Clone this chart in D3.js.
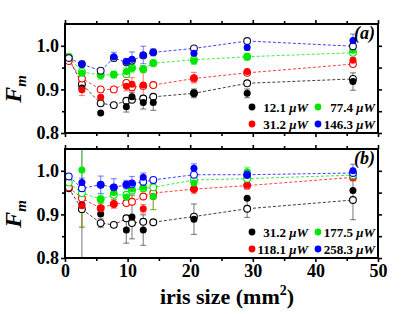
<!DOCTYPE html>
<html>
<head>
<meta charset="utf-8">
<script src="https://cdn.jsdelivr.net/npm/d3@7"></script>
<style>
  body { margin: 0; background: #fff; }
  svg { display: block; }
  text { font-family: "Liberation Serif", "DejaVu Serif", serif; font-weight: bold; }
</style>
</head>
<body>
<svg width="415" height="314"></svg>
<script>
// iris sizes (mm^2), shared by both panels
var irisX = [0.6, 2.7, 5.7, 7.8, 9.8, 10.7, 12.5, 14.1, 20.6, 29.1, 46.0];

// panel (a)
var aLabels = ['12.1', '31.2', '77.4', '146.3'];
var aBlackFill = [null, 0.903, 0.846, null, 0.860, 0.883, 0.870, 0.870, 0.891, 0.891, 0.918];
var aBlackErr  = [0, 0.008, 0, 0, 0.012, 0.010, 0.015, 0.018, 0.010, 0.010, 0.020];
var aBlackOpen = [0.972, 0.912, 0.868, 0.864, 0.874, 0.876, 0.879, 0.883, 0.891, 0.914, 0.924];
var aRedFill   = [null, 0.899, 0.882, null, 0.907, 0.912, 0.910, null, 0.927, 0.941, 0.967];
var aRedErr    = [0, 0.013, 0.005, 0, 0.010, 0.015, 0.030, 0, 0.012, 0.005, 0.005];
var aRedOpen   = [0.965, 0.925, 0.900, 0.900, 0.915, 0.905, 0.908, 0.910, 0.925, 0.938, 0.958];
var aGreenFill = [null, 0.937, 0.933, 0.934, 0.941, 0.948, 0.946, 0.961, 0.965, 0.975, 0.990];
var aGreenErr  = [0, 0.008, 0.010, 0.008, 0.010, 0.010, 0.008, 0.006, 0.008, 0.008, 0.006];
var aGreenOpen = [0.975, 0.940, 0.933, 0.934, 0.935, 0.950, 0.947, 0.960, 0.968, 0.975, 0.984];
var aBlueFill  = [null, 0.958, null, 0.975, 0.964, 0.969, 0.979, 0.985, 0.983, 0.996, 1.012];
var aBlueErr   = [0, 0.007, 0, 0.010, 0.007, 0.017, 0.020, 0.008, 0.006, 0.006, 0.015];
var aBlueOpen  = [0.972, 0.958, 0.943, 0.972, 0.962, 0.966, 0.978, 0.985, 0.994, 1.011, 0.999];

// panel (b)
var bLabels = ['31.2', '118.1', '177.5', '258.3'];
var bBlackFill = [null, 0.922, 0.901, null, 0.864, 0.894, 0.864, null, 0.889, 0.937, 0.955];
var bBlackErr  = [0, 0.130, 0, 0, 0.030, 0.050, 0.035, 0, 0.035, 0, 0];
var bBlackOpen = [0.960, 0.912, 0.880, 0.876, 0.891, 0.880, 0.883, 0.882, 0.895, 0.913, 0.933];
var bBlackOpenErr = [0, 0, 0.010, 0, 0, 0, 0, 0, 0, 0.020, 0.045];
var bRedFill   = [null, 0.920, 0.914, 0.924, null, null, 0.913, 0.941, 0.958, 0.968, 0.987];
var bRedErr    = [0, 0.050, 0.012, 0.010, 0, 0, 0.010, 0.030, 0.010, 0.010, 0.010];
var bRedOpen   = [0.962, 0.937, 0.914, 0.924, 0.926, 0.929, 0.941, 0.949, 0.958, 0.966, 0.985];
var bGreenFill = [null, 1.002, 0.935, 0.950, 0.940, 0.958, 0.962, 0.941, 0.972, 0.998, 0.996];
var bGreenErr  = [0, 0.130, 0.010, 0.015, 0.010, 0.010, 0.010, 0.030, 0.010, 0.010, 0.010];
var bGreenOpen = [0.973, 0.949, 0.935, 0.945, 0.945, 0.955, 0.960, 0.962, 0.979, 0.982, 0.990];
var bBlueFill  = [null, 0.973, 0.968, 0.962, 0.968, 0.972, 0.985, null, 1.006, 0.990, 1.000];
var bBlueErr   = [0, 0.010, 0.020, 0.020, 0.010, 0.015, 0.010, 0, 0.010, 0.010, 0.015];
var bBlueOpen  = [0.987, 0.960, 0.968, 0.962, 0.968, 0.970, 0.975, 0.979, 0.991, 0.991, 0.995];

var xTicks = [0, 10, 20, 30, 40, 50];
var yTicks = [0.8, 0.9, 1.0];

var svg = d3.select('svg');
var x = d3.scaleLinear().domain([0, 50]).range([65, 378]);

function series(color, fill, err, open, openErr, openStroke) {
    return { color: color, fill: fill, err: err, open: open, openErr: openErr, openStroke: openStroke || color };
}

var panels = [
    {
        top: 24, bottom: 133, tag: '(a)', labels: aLabels, showX: false,
        series: [
            series('#000000', aBlackFill, aBlackErr, aBlackOpen),
            series('#ff0000', aRedFill, aRedErr, aRedOpen),
            series('#00e600', aGreenFill, aGreenErr, aGreenOpen),
            series('#0000ff', aBlueFill, aBlueErr, aBlueOpen, null, '#10104a')
        ]
    },
    {
        top: 149, bottom: 258, tag: '(b)', labels: bLabels, showX: true,
        series: [
            series('#000000', bBlackFill, bBlackErr, bBlackOpen, bBlackOpenErr),
            series('#ff0000', bRedFill, bRedErr, bRedOpen),
            series('#00e600', bGreenFill, bGreenErr, bGreenOpen),
            series('#0000ff', bBlueFill, bBlueErr, bBlueOpen)
        ]
    }
];

function drawErrors(g, y, vals, errs, color) {
    irisX.forEach(function(xv, i) {
        if (vals[i] == null || !errs || !errs[i]) return;
        var lo = y(vals[i] - errs[i]), hi = y(vals[i] + errs[i]);
        g.append('line').attr('x1', x(xv)).attr('x2', x(xv)).attr('y1', lo).attr('y2', hi)
            .attr('stroke', color).attr('stroke-opacity', 0.45).attr('stroke-width', 1.2);
        [lo, hi].forEach(function(yy) {
            g.append('line').attr('x1', x(xv) - 3).attr('x2', x(xv) + 3).attr('y1', yy).attr('y2', yy)
                .attr('stroke', color).attr('stroke-opacity', 0.45).attr('stroke-width', 1.2);
        });
    });
}

panels.forEach(function(p, pi) {
    var y = d3.scaleLinear().domain([0.8, 1.05]).range([p.bottom, p.top]);
    var clipId = 'clip' + pi;
    svg.append('clipPath').attr('id', clipId).append('rect')
        .attr('x', 65).attr('y', p.top).attr('width', 313).attr('height', p.bottom - p.top);
    var g = svg.append('g').attr('clip-path', 'url(#' + clipId + ')');

    // error bars
    p.series.forEach(function(s) {
        drawErrors(g, y, s.fill, s.err, s.color);
        drawErrors(g, y, s.open, s.openErr, s.color);
    });

    // dashed lines through open points
    var line = d3.line().x(function(d) { return x(d[0]); }).y(function(d) { return y(d[1]); });
    p.series.forEach(function(s) {
        g.append('path').datum(irisX.map(function(xv, i) { return [xv, s.open[i]]; }))
            .attr('d', line).attr('fill', 'none').attr('stroke', s.color)
            .attr('stroke-opacity', 0.75).attr('stroke-width', 1).attr('stroke-dasharray', '3,2');
    });

    // markers
    p.series.forEach(function(s) {
        g.selectAll(null).data(irisX.map(function(xv, i) { return [xv, s.open[i]]; }))
            .enter().append('circle')
            .attr('cx', function(d) { return x(d[0]); }).attr('cy', function(d) { return y(d[1]); })
            .attr('r', 3.4).attr('fill', '#fff').attr('stroke', s.openStroke).attr('stroke-width', 1.1);
        g.selectAll(null).data(irisX.map(function(xv, i) { return [xv, s.fill[i]]; }).filter(function(d) { return d[1] != null; }))
            .enter().append('circle')
            .attr('cx', function(d) { return x(d[0]); }).attr('cy', function(d) { return y(d[1]); })
            .attr('r', 3.5).attr('fill', s.color);
    });

    // axes
    var axes = svg.append('g');
    function styleAxis(sel) {
        sel.select('.domain').remove();
        sel.selectAll('line').attr('stroke', '#000').attr('stroke-width', 1.6);
        sel.selectAll('text').attr('font-size', 18).attr('fill', '#000')
            .attr('font-family', '"Liberation Serif", serif').attr('font-weight', 'bold');
    }
    axes.append('g').attr('transform', 'translate(65,0)')
        .call(d3.axisLeft(y).tickValues(yTicks).tickFormat(d3.format('.1f')).tickSize(4).tickPadding(2)).call(styleAxis);
    axes.append('g').attr('transform', 'translate(65,0)')
        .call(d3.axisLeft(y).tickValues([0.85, 0.95]).tickFormat('').tickSize(3)).call(styleAxis);
    axes.append('g').attr('transform', 'translate(378,0)')
        .call(d3.axisRight(y).tickValues([0.8, 0.85, 0.9, 0.95, 1.0]).tickFormat('').tickSize(4)).call(styleAxis);
    axes.append('g').attr('transform', 'translate(0,' + p.top + ')')
        .call(d3.axisTop(x).tickValues(xTicks).tickFormat('').tickSize(4)).call(styleAxis);
    axes.append('g').attr('transform', 'translate(0,' + p.top + ')')
        .call(d3.axisTop(x).tickValues([5, 15, 25, 35, 45]).tickFormat('').tickSize(3)).call(styleAxis);
    axes.append('g').attr('transform', 'translate(0,' + p.bottom + ')')
        .call(d3.axisBottom(x).tickValues(xTicks).tickFormat(p.showX ? d3.format('d') : '').tickSize(4).tickPadding(2)).call(styleAxis);
    axes.append('g').attr('transform', 'translate(0,' + p.bottom + ')')
        .call(d3.axisBottom(x).tickValues([5, 15, 25, 35, 45]).tickFormat('').tickSize(3)).call(styleAxis);

    // frame
    svg.append('rect').attr('x', 65).attr('y', p.top).attr('width', 313).attr('height', p.bottom - p.top)
        .attr('fill', 'none').attr('stroke', '#000').attr('stroke-width', 2);

    // panel tag
    svg.append('text').attr('x', 375).attr('y', p.top + 15).attr('text-anchor', 'end')
        .attr('font-size', 18).attr('font-style', 'italic').text(p.tag);

    // y title
    var yt = svg.append('text').attr('transform', 'translate(21,' + (p.top + 65) + ') rotate(-90)')
        .attr('text-anchor', 'middle').attr('font-size', 24).attr('font-style', 'italic');
    yt.append('tspan').text('F');
    yt.append('tspan').attr('font-size', 15).attr('dy', 5).text('m');

    // legend
    var legPos = [[252, 308, 0], [252, 308, 1], [318, 375, 0], [318, 375, 1]];
    p.series.forEach(function(s, i) {
        var lp = legPos[i];
        var cy = p.bottom - 26 + lp[2] * 17;
        svg.append('circle').attr('cx', lp[0]).attr('cy', cy).attr('r', 3.4).attr('fill', s.color);
        var t = svg.append('text').attr('x', lp[1]).attr('y', cy + 4.5).attr('text-anchor', 'end').attr('font-size', 13);
        t.append('tspan').text(p.labels[i] + ' ');
        t.append('tspan').attr('font-style', 'italic').text('\u03bcW');
    });
});

// x title
var xt = svg.append('text').attr('x', 227).attr('y', 304).attr('text-anchor', 'middle').attr('font-size', 22);
xt.append('tspan').text('iris size (mm');
xt.append('tspan').attr('font-size', 14).attr('dy', -9).text('2');
xt.append('tspan').attr('dy', 9).text(')');
</script>
</body>
</html>
